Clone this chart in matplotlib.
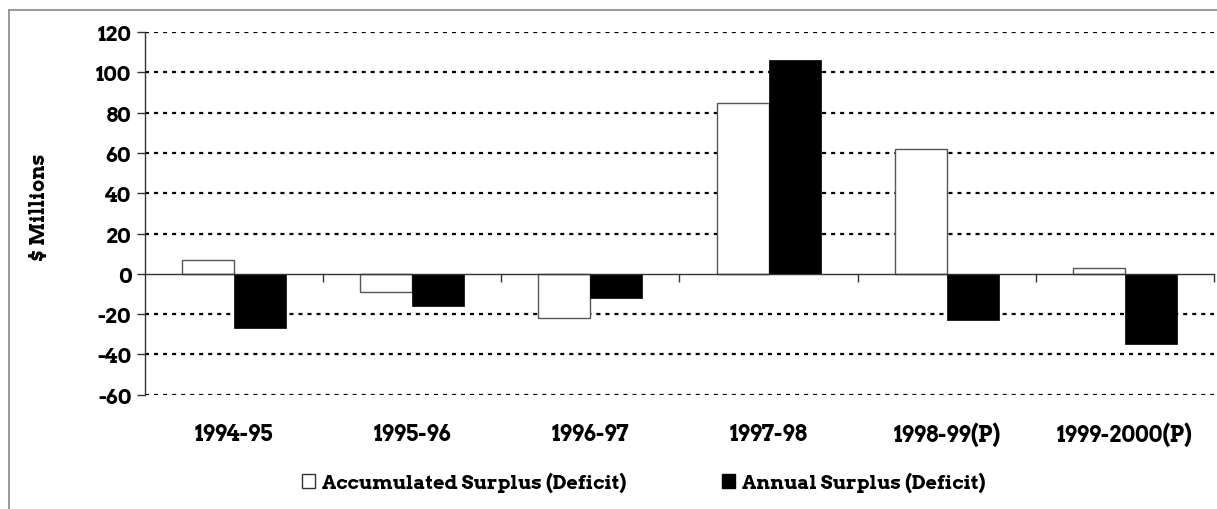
import matplotlib
matplotlib.use("Agg")
import matplotlib.pyplot as plt
from matplotlib.lines import Line2D
from matplotlib.patches import Patch
import numpy as np

# ==========================
# Data
# ==========================

years = ["1994-95", "1995-96", "1996-97", "1997-98", "1998-99(P)", "1999-2000(P)"]
accumulated = [7, -9, -22, 85, 62, 3]
annual = [-27, -16, -12, 106, -23, -35]
y_ticks = [-60, -40, -20, 0, 20, 40, 60, 80, 100, 120]

# ==========================
# Style
# ==========================

plt.rcParams["font.family"] = ["Arvo", "DejaVu Serif"]
plt.rcParams["font.weight"] = "bold"
plt.rcParams["lines.scale_dashes"] = False

fig = plt.figure(figsize=(12.17, 5.10), dpi=100)
ax = fig.add_axes([0.1191, 0.2241, 0.8784, 0.7112])

x = np.arange(len(years))
w = 0.292

ax.bar(x - w / 2, accumulated, w, color="white", edgecolor="#555555",
       linewidth=1.0, zorder=3, label="Accumulated Surplus (Deficit)")
ax.bar(x + w / 2, annual, w, color="black", edgecolor="black",
       linewidth=0.5, zorder=3, label="Annual Surplus (Deficit)")

ax.set_xlim(-0.5, len(years) - 0.5)
ax.set_ylim(-60, 120)
ax.set_yticks(y_ticks)
ax.set_yticklabels([str(v) for v in y_ticks], fontsize=15, fontweight="bold")

# dashed gridlines (skip the zero line, the axis is drawn there)
for v in y_ticks:
    if v != 0:
        ax.axhline(v, color="black", linewidth=1.6, linestyle=(0, (2.9, 3.6)), zorder=1)

# spines
for s in ["top", "right"]:
    ax.spines[s].set_visible(False)
ax.spines["bottom"].set_position(("data", 0))
ax.spines["bottom"].set_color("#333333")
ax.spines["bottom"].set_linewidth(1.0)
ax.spines["bottom"].set_zorder(4)
ax.spines["left"].set_color("#333333")
ax.spines["left"].set_linewidth(1.0)

ax.set_xticks(x + 0.5)
ax.set_xticklabels([])
ax.tick_params(axis="x", direction="out", length=6, width=1.0, color="#333333")
ax.tick_params(axis="y", direction="out", length=6, width=1.0, color="#333333", pad=4)

# category labels below the plot
for i, lab in enumerate(years):
    ax.text(i, -0.107, lab, transform=ax.get_xaxis_transform(), ha="center",
            va="center", fontsize=15.5, fontweight="bold")

ax.set_ylabel("$ Millions", fontsize=14.5, fontweight="bold")
ax.yaxis.set_label_coords(-0.089, 0.52)

# legend
handles = [Patch(facecolor="white", edgecolor="#333333", linewidth=1.0),
           Patch(facecolor="black", edgecolor="black")]
fig.legend(handles, ["Accumulated Surplus (Deficit)", "Annual Surplus (Deficit)"],
           loc="center", bbox_to_anchor=(0.529, 0.053), ncol=2, frameon=False,
           prop={"size": 14, "weight": "bold"}, handlelength=0.7,
           handleheight=0.7, handletextpad=0.35, columnspacing=4.9)

# outer border (left and top)
fig.add_artist(Line2D([9 / 1217, 9 / 1217], [0, 1 - 11 / 510], color="#888888",
                      linewidth=1.2, transform=fig.transFigure))
fig.add_artist(Line2D([9 / 1217, 1], [1 - 11 / 510, 1 - 11 / 510], color="#888888",
                      linewidth=1.2, transform=fig.transFigure))

plt.savefig("out.png", dpi=100)
